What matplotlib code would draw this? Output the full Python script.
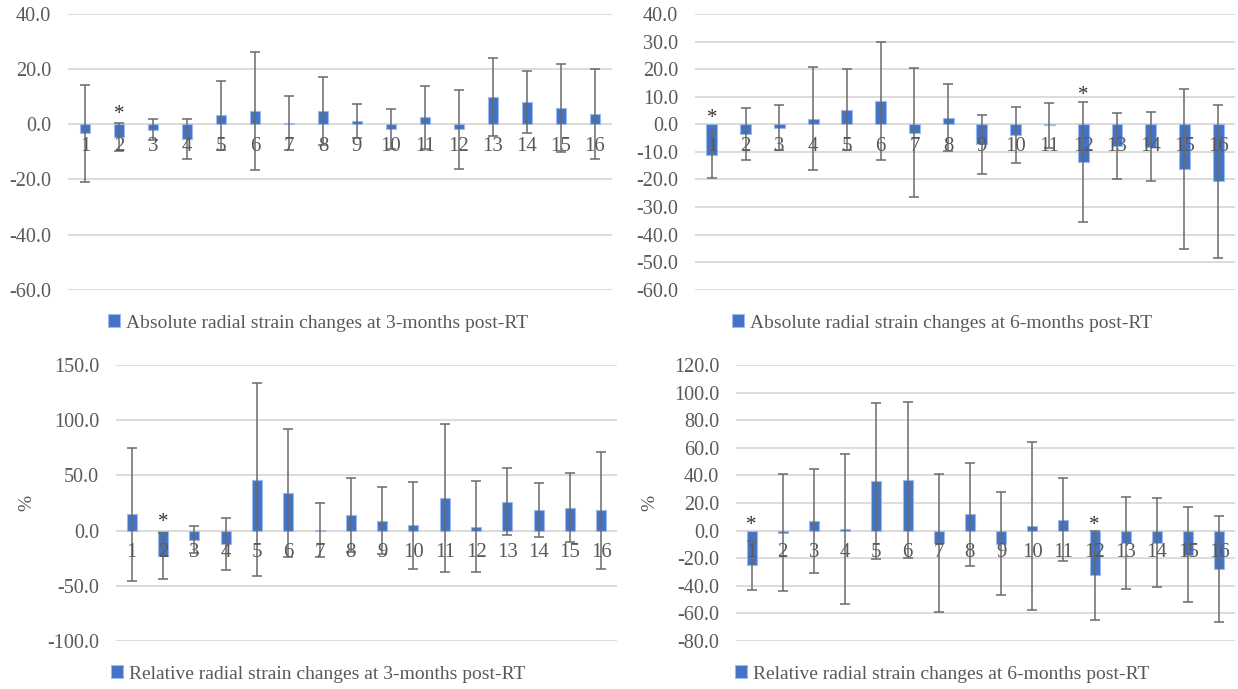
import matplotlib.pyplot as plt
import numpy as np

plt.rcParams['font.family'] = ['Liberation Serif', 'DejaVu Serif']

# segment numbers 1..16
segments = [str(i) for i in range(1, 17)]

# absolute radial strain change, 3 months (mean, SD)
abs3_mean = [-3.3, -4.6, -1.9, -5.3, 3.2, 4.9, 0.6, 4.8, 1.2, -1.7, 2.5, -1.8, 10.0, 8.1, 6.0, 3.6]
abs3_sd = [17.5, 5.0, 3.8, 7.3, 12.5, 21.4, 9.8, 12.2, 6.3, 7.1, 11.4, 14.4, 14.2, 11.2, 15.9, 16.3]

# absolute radial strain change, 6 months
abs6_mean = [-11.3, -3.6, -1.2, 2.1, 5.3, 8.4, -3.1, 2.4, -7.3, -3.9, -0.4, -13.8, -7.9, -8.2, -16.1, -20.7]
abs6_sd = [8.0, 9.4, 8.1, 18.6, 14.6, 21.4, 23.4, 12.2, 10.6, 10.1, 8.3, 21.8, 11.9, 12.5, 29.0, 27.6]

# relative radial strain change (%), 3 months
rel3_mean = [14.8, -23.0, -8.1, -12.2, 46.0, 33.8, 0.6, 14.5, 9.1, 4.7, 29.3, 3.6, 26.1, 18.7, 20.7, 18.6]
rel3_sd = [60.4, 21.0, 12.6, 23.7, 87.4, 58.0, 24.1, 33.5, 30.1, 39.7, 67.0, 41.3, 30.3, 24.8, 31.2, 53.0]

# relative radial strain change (%), 6 months
rel6_mean = [-25.3, -1.4, 6.8, 1.2, 36.2, 36.9, -9.0, 11.7, -9.4, 3.4, 8.0, -32.4, -9.1, -8.7, -17.5, -27.7]
rel6_sd = [17.6, 42.2, 37.7, 54.6, 56.5, 56.5, 49.8, 37.1, 37.2, 61.1, 30.4, 32.3, 33.2, 32.1, 34.6, 38.6]

# segments marked significant (index, y of asterisk)
abs3_star = [(1, 3.4)]
abs6_star = [(0, 2.2), (11, 10.6)]
rel3_star = [(1, 7.2)]
rel6_star = [(0, 3.9), (11, 3.9)]

blue = '#4472C4'
grey_txt = '#595959'

fig = plt.figure(figsize=(12.38, 6.89), dpi=100)


def panel(rect, means, sds, stars, ylim, step, legend_label, legend_xy, ylabel_x=None):
    ax = fig.add_axes(rect)
    x = np.arange(len(segments))
    ax.bar(x, means, width=0.32, color=blue, edgecolor='#9DBBE8', linewidth=0.8,
           label=legend_label, zorder=1)
    ax.errorbar(x, means, yerr=sds, fmt='none', ecolor='#6a6a6a', elinewidth=1.1,
                capsize=3.8, capthick=1.1, zorder=2)
    for i, y in stars:
        ax.text(i, y, '*', ha='center', va='center', fontsize=15, color='#333333', zorder=4)
    ax.set_xlim(-0.5, len(segments) - 0.5)
    ax.set_ylim(*ylim)
    ax.set_yticks(np.arange(ylim[0], ylim[1] + step / 2, step))
    ax.set_yticklabels(['%.1f' % v for v in ax.get_yticks()])
    ax.set_xticks(x)
    ax.set_xticklabels(segments)
    ax.grid(axis='y', color='#D9D9D9', linewidth=1.3)
    ax.set_axisbelow(True)
    ax.xaxis.set_zorder(5)
    for s in ax.spines.values():
        s.set_visible(False)
    ax.spines['bottom'].set_position(('data', 0))
    ax.tick_params(axis='x', length=0, pad=9, labelsize=15, labelcolor=grey_txt)
    ax.tick_params(axis='y', length=0, pad=12, labelsize=14.5, labelcolor=grey_txt)
    if ylabel_x is not None:
        ax.set_ylabel('%', fontsize=14, color=grey_txt)
        ax.yaxis.set_label_coords(ylabel_x, 0.5)
    ax.legend(loc='center', bbox_to_anchor=legend_xy, bbox_transform=fig.transFigure,
              frameon=False, fontsize=14, labelcolor=grey_txt, handlelength=0.6,
              handleheight=0.6, handletextpad=0.3)
    return ax


panel([0.0549, 0.5794, 0.4394, 0.4003], abs3_mean, abs3_sd, abs3_star, (-60, 40), 20,
      'Absolute radial strain changes at 3-months post-RT', (318 / 1238, 1 - 323 / 689))
panel([0.5614, 0.5794, 0.4362, 0.4003], abs6_mean, abs6_sd, abs6_star, (-60, 40), 10,
      'Absolute radial strain changes at 6-months post-RT', (942 / 1238, 1 - 323 / 689))
panel([0.0937, 0.0697, 0.4047, 0.4006], rel3_mean, rel3_sd, rel3_star, (-100, 150), 50,
      'Relative radial strain changes at 3-months post-RT', (318 / 1238, 1 - 674 / 689),
      ylabel_x=-0.16)
panel([0.5945, 0.0697, 0.4031, 0.4006], rel6_mean, rel6_sd, rel6_star, (-80, 120), 20,
      'Relative radial strain changes at 6-months post-RT', (942 / 1238, 1 - 674 / 689),
      ylabel_x=-0.155)

fig.savefig('out.png', dpi=100, facecolor='white')
